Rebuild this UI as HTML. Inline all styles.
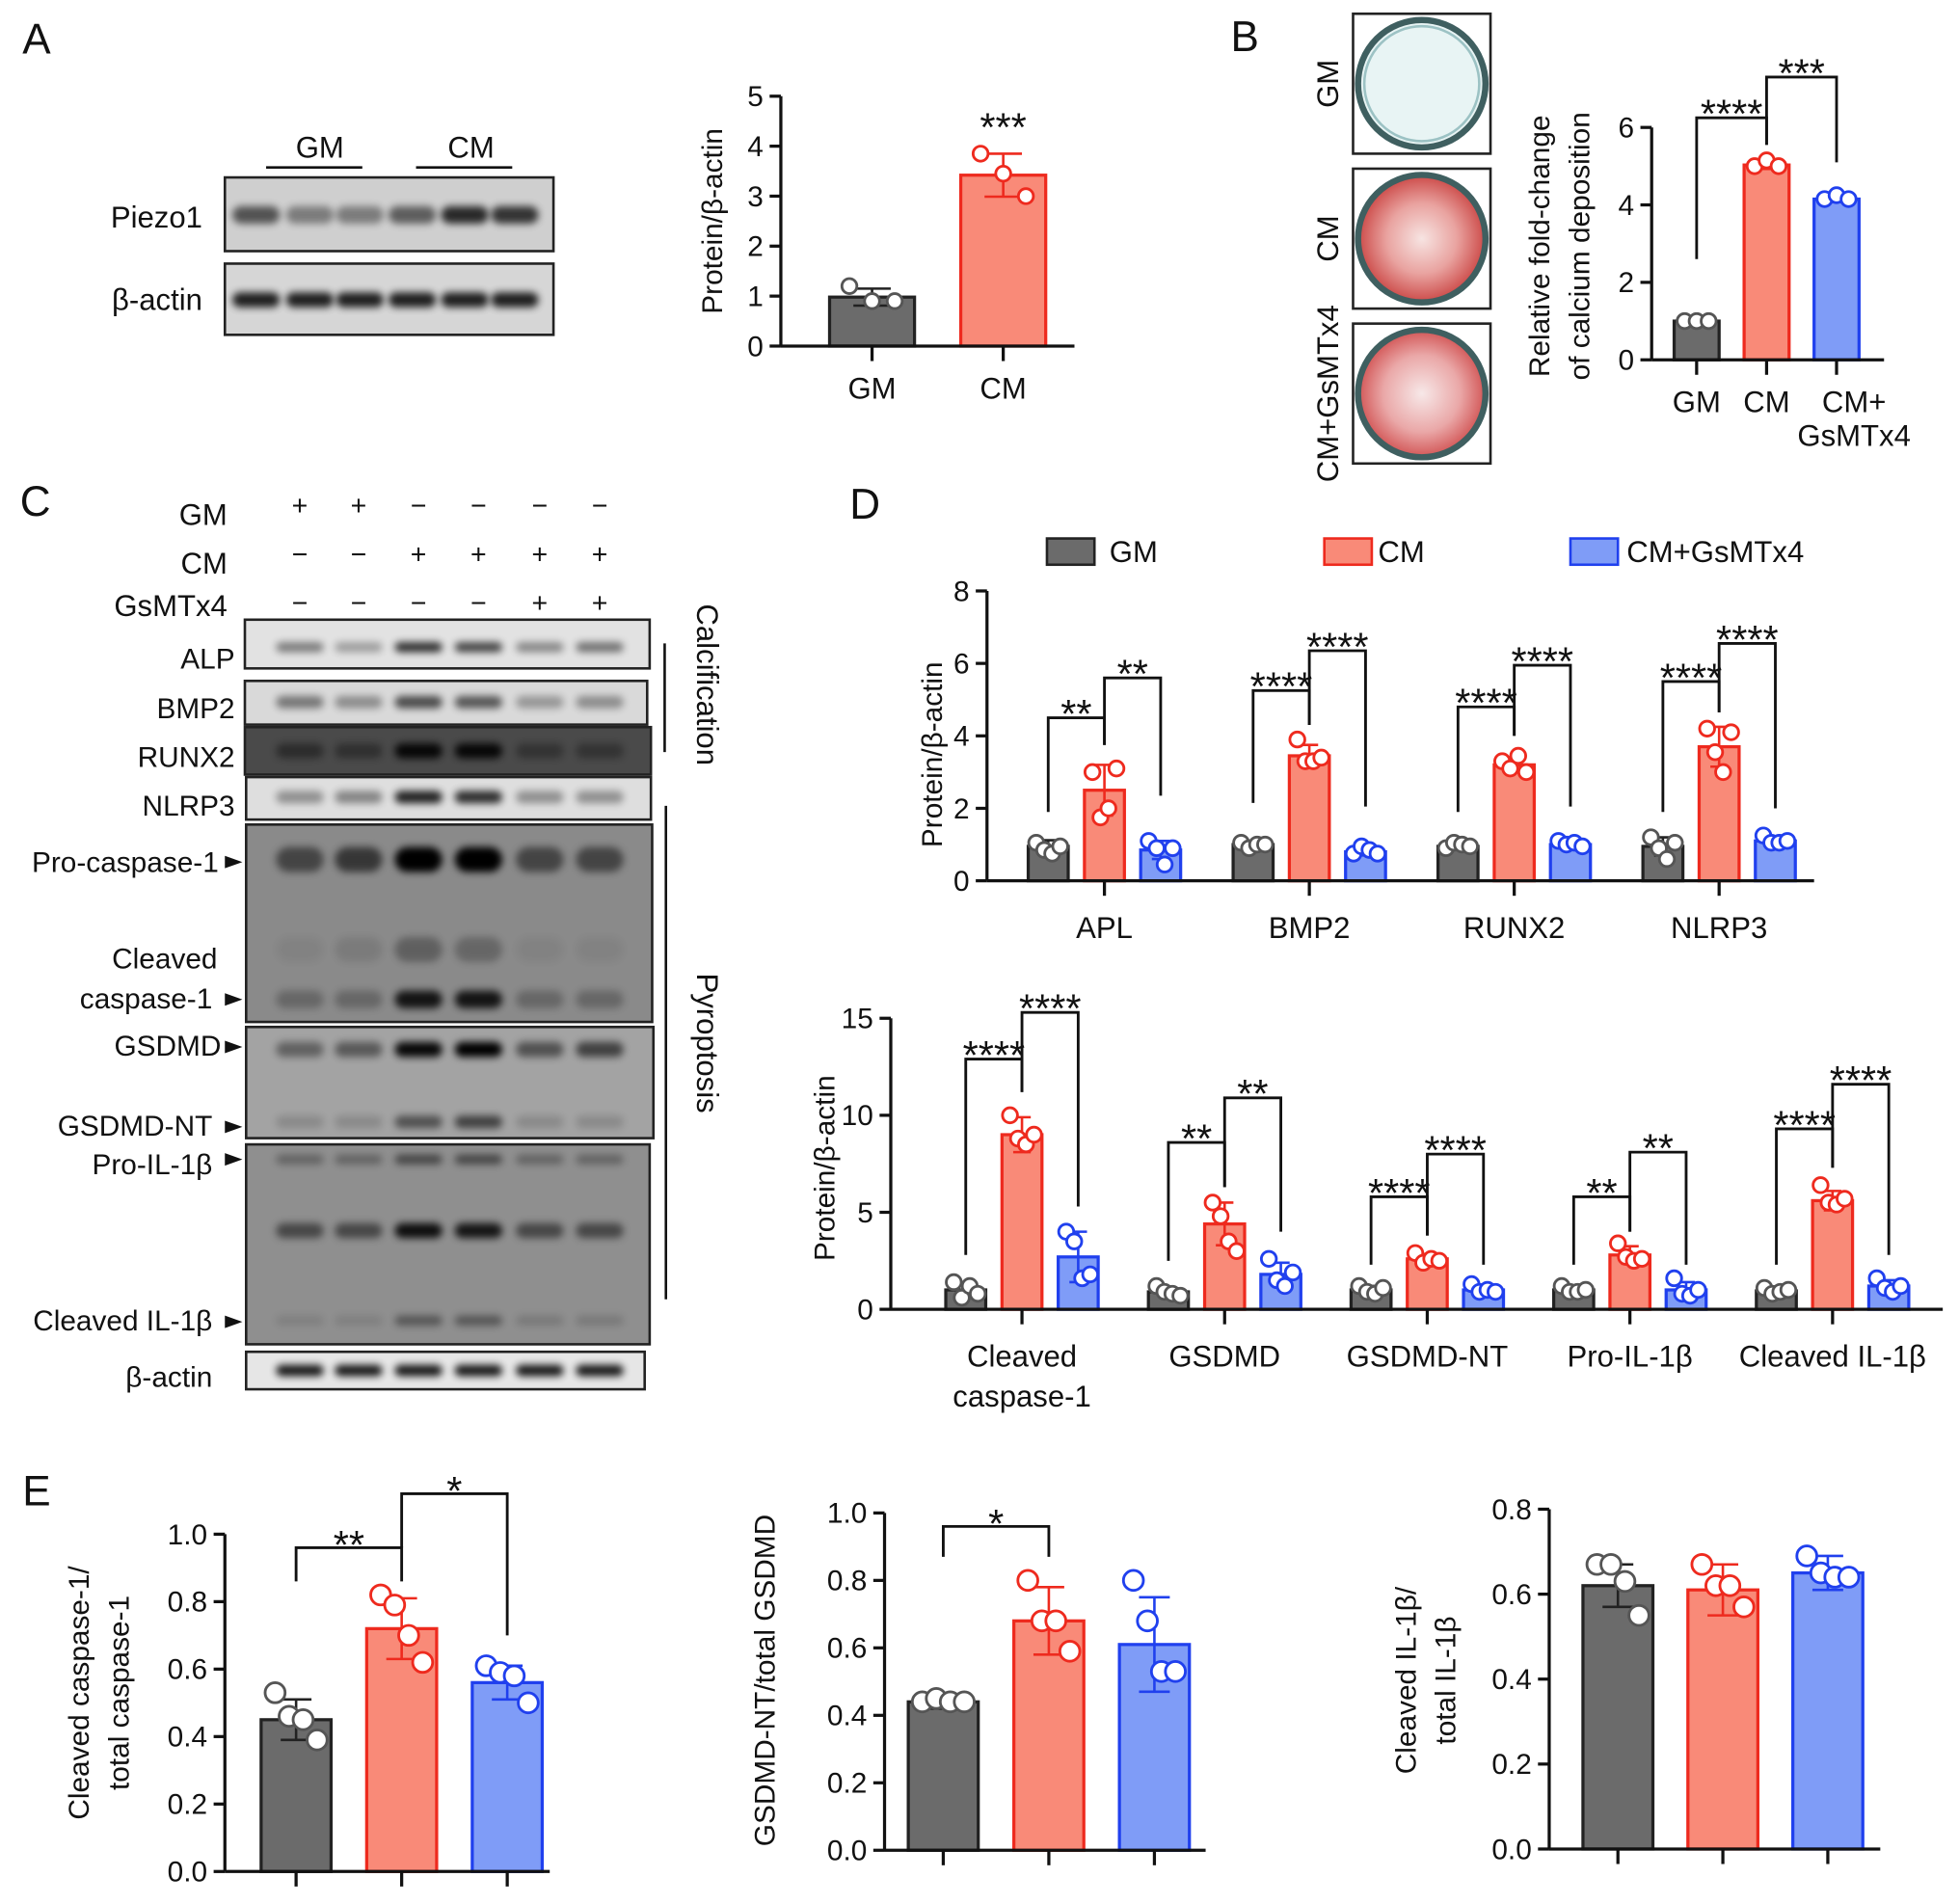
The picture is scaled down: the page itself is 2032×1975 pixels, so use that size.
<!DOCTYPE html>
<html><head><meta charset="utf-8"><style>
html,body{margin:0;padding:0;background:#fff}
svg{display:block;font-family:"Liberation Sans",Arial,sans-serif}
</style></head><body>
<svg id="fig" width="2032" height="1975" viewBox="0 0 1568 1524" xmlns="http://www.w3.org/2000/svg">
<defs>
<filter id="blur" x="-50%" y="-200%" width="200%" height="500%"><feGaussianBlur stdDeviation="3"/></filter>
<radialGradient id="redwell" cx="50%" cy="50%" r="50%"><stop offset="0" stop-color="#f7e4e2"/><stop offset="0.55" stop-color="#e9a3a0"/><stop offset="1" stop-color="#cc4a48"/></radialGradient>
<radialGradient id="redwell2" cx="50%" cy="50%" r="50%"><stop offset="0" stop-color="#f7e8e8"/><stop offset="0.6" stop-color="#eaa8a8"/><stop offset="1" stop-color="#d25656"/></radialGradient>
</defs>
<g id="static" font-size="24" fill="#111">
<text x="18" y="43" font-size="34">A</text>
<text x="985" y="41" font-size="34">B</text>
<text x="16" y="413" font-size="34">C</text>
<text x="680" y="415" font-size="34">D</text>
<text x="18" y="1205" font-size="34">E</text>
<text x="256" y="126" text-anchor="middle">GM</text>
<line x1="213" y1="134" x2="290" y2="134" stroke="#111" stroke-width="2"/>
<text x="377" y="126" text-anchor="middle">CM</text>
<line x1="333" y1="134" x2="410" y2="134" stroke="#111" stroke-width="2"/>
<text x="162" y="182" text-anchor="end">Piezo1</text>
<text x="162" y="248" text-anchor="end">β-actin</text>
<rect x="1083" y="11" width="110" height="112" fill="#fff" stroke="#222" stroke-width="2"/>
<circle cx="1138" cy="67" r="51" fill="#e8f4f4" stroke="#3f5f60" stroke-width="5"/>
<circle cx="1138" cy="67" r="46" fill="none" stroke="#9cc2c4" stroke-width="2"/>
<rect x="1083" y="135" width="110" height="112" fill="#fff" stroke="#222" stroke-width="2"/>
<circle cx="1138" cy="191" r="51" fill="url(#redwell)" stroke="#3f5f60" stroke-width="5"/>
<rect x="1083" y="259" width="110" height="112" fill="#fff" stroke="#222" stroke-width="2"/>
<circle cx="1138" cy="315" r="51" fill="url(#redwell2)" stroke="#3f5f60" stroke-width="5"/>
<text transform="translate(1071,67) rotate(-90)" text-anchor="middle">GM</text>
<text transform="translate(1071,191) rotate(-90)" text-anchor="middle">CM</text>
<text transform="translate(1071,315) rotate(-90)" text-anchor="middle">CM+GsMTx4</text>
<text x="182" y="420" text-anchor="end">GM</text>
<text x="182" y="459" text-anchor="end">CM</text>
<text x="182" y="493" text-anchor="end">GsMTx4</text>
<g id="pm" font-size="22" text-anchor="middle"></g>
<g id="blots"></g>
<g font-size="23" text-anchor="end">
<text x="188" y="535">ALP</text>
<text x="188" y="575">BMP2</text>
<text x="188" y="614">RUNX2</text>
<text x="188" y="653">NLRP3</text>
<text x="175" y="698">Pro-caspase-1</text>
<text x="174" y="775">Cleaved</text>
<text x="170" y="807">caspase-1</text>
<text x="177" y="845">GSDMD</text>
<text x="170" y="909">GSDMD-NT</text>
<text x="170" y="940">Pro-IL-1β</text>
<text x="170" y="1065">Cleaved IL-1β</text>
<text x="170" y="1110">β-actin</text>
</g>
<g fill="#111">
<path d="M180 685 l14 5 l-14 5z"/><path d="M180 795 l14 5 l-14 5z"/><path d="M180 833 l14 5 l-14 5z"/>
<path d="M180 897 l14 5 l-14 5z"/><path d="M180 923 l14 5 l-14 5z"/><path d="M180 1053 l14 5 l-14 5z"/>
</g>
<line x1="532" y1="515" x2="532" y2="602" stroke="#111" stroke-width="2"/>
<line x1="533" y1="645" x2="533" y2="1040" stroke="#111" stroke-width="2"/>
<text transform="translate(558,548) rotate(90)" text-anchor="middle">Calcification</text>
<text transform="translate(558,835) rotate(90)" text-anchor="middle">Pyroptosis</text>
<rect x="838" y="431" width="38" height="21" fill="#6b6b6b" stroke="#222" stroke-width="2"/>
<text x="888" y="450">GM</text>
<rect x="1060" y="431" width="38" height="21" fill="#f98a78" stroke="#ee2a1e" stroke-width="2"/>
<text x="1103" y="450">CM</text>
<rect x="1257" y="431" width="38" height="21" fill="#7f9cf7" stroke="#2040ee" stroke-width="2"/>
<text x="1302" y="450">CM+GsMTx4</text>
</g>
<g id="charts"></g>
</svg>
<script>
// Panel A
const aSeries = ['GM','CM'];
const aMeans = [0.98, 3.42];
const aErrs = [0.17, 0.43];
const aPoints = [[1.2,0.9,0.9],[3.85,3.45,3.0]];
const aTicks = [0,1,2,3,4,5];
// Panel B
const bSeries = ['GM','CM','CM+\nGsMTx4'];
const bMeans = [1.0, 5.03, 4.15];
const bErrs = [0.03, 0.1, 0.08];
const bPoints = [[1.0,1.0,1.0],[5.0,5.15,5.0],[4.15,4.25,4.15]];
const bTicks = [0,2,4,6];
// Panel D top
const d1Cats = ['APL','BMP2','RUNX2','NLRP3'];
const d1GM = [0.95,1.0,0.95,0.95];
const d1CM = [2.5,3.45,3.2,3.7];
const d1GS = [0.85,0.8,1.0,1.1];
const d1ErrGM = [0.17,0.1,0.1,0.25];
const d1ErrCM = [0.7,0.3,0.2,0.55];
const d1ErrGS = [0.25,0.1,0.1,0.1];
const d1PtsGM = [[1.05,0.85,0.75,0.95],[1.05,0.9,1.0,1.0],[0.9,1.05,1.0,0.95],[1.2,0.9,0.6,1.05]];
const d1PtsCM = [[3.0,1.75,2.0,3.1],[3.9,3.3,3.3,3.4],[3.3,3.1,3.45,3.0],[4.2,3.55,3.0,4.1]];
const d1PtsGS = [[1.1,0.9,0.45,0.9],[0.75,0.95,0.85,0.75],[1.1,1.0,1.05,0.95],[1.25,1.05,1.05,1.1]];
const d1Ticks = [0,2,4,6,8];
const d1Brackets = [[0,0,1,4.5,1.9,3.75,'**'],[0,1,2,5.6,3.75,2.35,'**'],[1,0,1,5.25,2.15,4.3,'****'],[1,1,2,6.35,4.3,2.05,'****'],[2,0,1,4.8,1.9,4.0,'****'],[2,1,2,5.95,4.0,2.05,'****'],[3,0,1,5.5,1.9,4.65,'****'],[3,1,2,6.55,4.65,2.0,'****']];
// Panel D bottom
const d2Cats = ['Cleaved\ncaspase-1','GSDMD','GSDMD-NT','Pro-IL-1β','Cleaved IL-1β'];
const d2GM = [1.0,0.9,1.0,1.0,0.95];
const d2CM = [9.0,4.4,2.6,2.8,5.6];
const d2GS = [2.7,1.8,1.0,1.0,1.2];
const d2ErrGM = [0.35,0.2,0.2,0.2,0.15];
const d2ErrCM = [0.9,1.1,0.25,0.45,0.5];
const d2ErrGS = [1.3,0.6,0.2,0.4,0.3];
const d2PtsGM = [[1.4,0.6,1.2,0.8],[1.2,0.9,0.8,0.7],[1.2,0.9,0.8,1.1],[1.2,0.9,0.9,1.0],[1.1,0.8,0.9,1.0]];
const d2PtsCM = [[10.0,8.8,8.5,9.0],[5.5,4.8,3.5,3.0],[2.9,2.4,2.6,2.5],[3.4,2.7,2.5,2.6],[6.4,5.5,5.4,5.7]];
const d2PtsGS = [[4.0,3.5,1.6,1.8],[2.6,1.5,1.2,1.9],[1.3,0.9,1.0,0.9],[1.6,0.8,0.7,1.0],[1.6,1.1,0.9,1.2]];
const d2Ticks = [0,5,10,15];
const d2Brackets = [[0,0,1,12.9,2.8,11.2,'****'],[0,1,2,15.3,11.2,5.3,'****'],[1,0,1,8.6,2.5,6.3,'**'],[1,1,2,10.9,6.3,4.0,'**'],[2,0,1,5.8,2.3,3.8,'****'],[2,1,2,8.0,3.8,2.3,'****'],[3,0,1,5.8,2.3,4.0,'**'],[3,1,2,8.1,4.0,2.3,'**'],[4,0,1,9.3,2.3,7.3,'****'],[4,1,2,11.6,7.3,2.8,'****']];
// Panel E
const e1Means = [0.45,0.72,0.56];
const e1Errs = [0.06,0.09,0.05];
const e1Points = [[0.53,0.46,0.45,0.39],[0.82,0.79,0.70,0.62],[0.61,0.59,0.58,0.50]];
const e1Ticks = [0,0.2,0.4,0.6,0.8,1.0];
const e2Means = [0.44,0.68,0.61];
const e2Errs = [0.02,0.1,0.14];
const e2Points = [[0.44,0.45,0.44,0.44],[0.80,0.68,0.68,0.59],[0.80,0.68,0.53,0.53]];
const e2Ticks = [0,0.2,0.4,0.6,0.8,1.0];
const e3Means = [0.62,0.61,0.65];
const e3Errs = [0.05,0.06,0.04];
const e3Points = [[0.67,0.67,0.63,0.55],[0.67,0.62,0.62,0.57],[0.69,0.65,0.64,0.64]];
const e3Ticks = [0,0.2,0.4,0.6,0.8];

const NS='http://www.w3.org/2000/svg';
const root=document.getElementById('charts');
function mk(tag,attrs,parent){const e=document.createElementNS(NS,tag);for(const k in attrs)e.setAttribute(k,attrs[k]);(parent||root).appendChild(e);return e;}
const FILL=['#6b6b6b','#f98a78','#7f9cf7'];
const STROKE=['#222','#ee2a1e','#2040ee'];
const DOT=['#555','#ee2a1e','#2040ee'];
function multiText(g,x,y,str,lh,fs,anchor){
  const t=mk('text',{x:x,y:y,'font-size':fs,'text-anchor':anchor||'middle',fill:'#111'},g);
  str.split('\n').forEach((s,i)=>{const ts=mk('tspan',{x:x,dy:i?lh:0},t);ts.textContent=s;});
  return t;
}
function drawChart(o){
  const g=mk('g',{});
  
  
  const yS=v=>o.y0-v*o.ppu;
  const ns=o.means.length, ng=o.means[0].length;
  const cx=(gi,si)=>o.gStart+gi*o.gStep+(si-(ns-1)/2)*o.sStep;
  const top=yS(o.ticks[o.ticks.length-1]);
  const ya=mk('line',{x1:o.ax,y1:top,x2:o.ax,y2:o.y0,stroke:'#111','stroke-width':2.5},g);
  
  
  o.ticks.forEach(t=>{
    mk('line',{x1:o.ax-9,y1:yS(t),x2:o.ax,y2:yS(t),stroke:'#111','stroke-width':2.5},g);
    const tl=mk('text',{x:o.ax-14,y:yS(t)+8,'font-size':o.fs||23,'text-anchor':'end',fill:'#111'},g);
    tl.textContent=o.fmt?o.fmt(t):String(t);
    
    
  });
  const yl=multiText(g,0,0,o.ylabel,32,o.lfs||23,'middle');
  yl.setAttribute('transform','translate('+o.ylx+','+o.yly+') rotate(-90)');
  
  
  for(let si=0;si<ns;si++)for(let gi=0;gi<ng;gi++){
    const x=cx(gi,si), m=o.means[si][gi], e=o.errs[si][gi];
    const r=mk('rect',{x:x-o.bw/2,y:yS(m),width:o.bw,height:o.y0-yS(m),fill:FILL[si],stroke:STROKE[si],'stroke-width':2.5},g);
    
    
    mk('line',{x1:x,y1:yS(m+e),x2:x,y2:yS(Math.max(0,m-e)),stroke:STROKE[si],'stroke-width':2},g);
    mk('line',{x1:x-o.bw*0.22,y1:yS(m+e),x2:x+o.bw*0.22,y2:yS(m+e),stroke:STROKE[si],'stroke-width':2},g);
    mk('line',{x1:x-o.bw*0.22,y1:yS(Math.max(0,m-e)),x2:x+o.bw*0.22,y2:yS(Math.max(0,m-e)),stroke:STROKE[si],'stroke-width':2},g);
    const pts=o.points[si][gi], n=pts.length;
    pts.forEach((p,k)=>{
      const off=(k-(n-1)/2)*(o.bw*0.8/(n));
      const c=mk('circle',{cx:x+off,cy:yS(p),r:o.r,fill:'#fff',stroke:DOT[si],'stroke-width':2.2},g);
      
      
    });
  }
  const xa=mk('line',{x1:o.ax,y1:o.y0,x2:o.axEnd,y2:o.y0,stroke:'#111','stroke-width':2.5},g);
  
  
  if(o.groupLabels){
    o.groupLabels.forEach((lab,gi)=>{
      const x=o.gStart+gi*o.gStep;
      mk('line',{x1:x,y1:o.y0,x2:x,y2:o.y0+12,stroke:'#111','stroke-width':2.5},g);
      const t=multiText(g,x,o.y0+46,lab,32,24,'middle');
      
      
    });
  } else {
    for(let si=0;si<ns;si++){
      const x=cx(0,si);
      mk('line',{x1:x,y1:o.y0,x2:x,y2:o.y0+12,stroke:'#111','stroke-width':2.5},g);
      if(o.barLabels){
        const t=multiText(g,x+(o.barLabelDx?o.barLabelDx[si]:0),o.y0+42,o.barLabels[si],27,24,'middle');
        
        
      }
    }
  }
  (o.brackets||[]).forEach(b=>{
    const [gi,s1,s2,tp,l1,l2,lab]=b;
    const x1=cx(gi,s1), x2=cx(gi,s2);
    if(s1!==s2){
      const p=mk('path',{d:'M'+x1+' '+yS(l1)+' V'+yS(tp)+' H'+x2+' V'+yS(l2),fill:'none',stroke:'#111','stroke-width':2.2},g);
      
      
    }
    const t=mk('text',{x:(x1+x2)/2,y:yS(tp)+(o.sy||8),'font-size':o.sfs||32,'text-anchor':'middle',fill:'#111'},g);
    t.textContent=lab;
    
    
  });
}
const col=(arr)=>arr.map(v=>[v]);
drawChart({name:'chart-a',means:col(aMeans),errs:col(aErrs),points:aPoints.map(p=>[p]),ticks:aTicks,ax:625,axEnd:860,y0:277,ppu:40,gStart:750.5,gStep:0,sStep:105,bw:68,r:6,
  ylabel:'Protein/β-actin',ylx:578,yly:177,barLabels:aSeries,brackets:[[0,1,1,4.3,4.3,4.3,'***']],sy:8});
drawChart({name:'chart-b',means:col(bMeans),errs:col(bErrs),points:bPoints.map(p=>[p]),ticks:bTicks,ax:1322,axEnd:1508,y0:288,ppu:31,gStart:1414,gStep:0,sStep:56,bw:36,r:6,
  ylabel:'Relative fold-change\nof calcium deposition',ylx:1240,yly:197,barLabels:bSeries,barLabelDx:[0,0,14],
  brackets:[[0,0,1,6.25,2.6,5.55,'****'],[0,1,2,7.3,5.55,5.1,'***']],sy:8});
drawChart({name:'chart-d-top',means:[d1GM,d1CM,d1GS],errs:[d1ErrGM,d1ErrCM,d1ErrGS],points:[d1PtsGM,d1PtsCM,d1PtsGS],ticks:d1Ticks,ax:790,axEnd:1452,y0:705,ppu:29,
  gStart:884,gStep:164,sStep:45,bw:32,r:6,ylabel:'Protein/β-actin',ylx:754,yly:604,groupLabels:d1Cats,brackets:d1Brackets,sy:8});
drawChart({name:'chart-d-bottom',means:[d2GM,d2CM,d2GS],errs:[d2ErrGM,d2ErrCM,d2ErrGS],points:[d2PtsGM,d2PtsCM,d2PtsGS],ticks:d2Ticks,ax:713,axEnd:1555,y0:1048,ppu:15.53,
  gStart:818,gStep:162.2,sStep:45,bw:32,r:6,ylabel:'Protein/β-actin',ylx:668,yly:935,groupLabels:d2Cats,brackets:d2Brackets,sy:8});
const f1=t=>t.toFixed(1);
drawChart({name:'chart-e1',means:col(e1Means),errs:col(e1Errs),points:e1Points.map(p=>[p]),ticks:e1Ticks,fmt:f1,ax:180,axEnd:440,y0:1498,ppu:270,gStart:321.5,gStep:0,sStep:84.5,bw:56,r:8,
  ylabel:'Cleaved caspase-1/\ntotal caspase-1',ylx:71,yly:1355,barLabels:['','',''],brackets:[[0,0,1,0.96,0.86,0.86,'**'],[0,1,2,1.12,0.96,0.7,'*']],sy:9});
drawChart({name:'chart-e2',means:col(e2Means),errs:col(e2Errs),points:e2Points.map(p=>[p]),ticks:e2Ticks,fmt:f1,ax:708,axEnd:965,y0:1481,ppu:270,gStart:839.5,gStep:0,sStep:84.5,bw:56,r:8,
  ylabel:'GSDMD-NT/total GSDMD',ylx:620,yly:1345,barLabels:['','',''],brackets:[[0,0,1,0.96,0.87,0.87,'*']],sy:9});
drawChart({name:'chart-e3',means:col(e3Means),errs:col(e3Errs),points:e3Points.map(p=>[p]),ticks:e3Ticks,fmt:f1,ax:1240,axEnd:1505,y0:1480,ppu:340,gStart:1379,gStep:0,sStep:84,bw:56,r:8,
  ylabel:'Cleaved IL-1β/\ntotal IL-1β',ylx:1133,yly:1345,barLabels:['','',''],brackets:[]});
const blots=document.getElementById('blots');
function blot(name,x,y,w,h,bg,lanes,bands){
  const g=mk('g',{},blots);
  
  
  mk('rect',{x:x,y:y,width:w,height:h,fill:bg,stroke:'#222','stroke-width':2},g);
  bands.forEach(b=>{
    lanes.forEach((lx,i)=>{
      const d=b.v[i];
      mk('rect',{x:lx-19,y:b.y-b.h/2,width:38,height:b.h,rx:b.h/2,fill:'#000',opacity:d,filter:'url(#blur)'},g);
    });
  });
}
const aL=[205,248,288,330,372,412];
const cL=[240,287,335,383,432,480];
blot('blot-piezo1',180,142,263,59,'#cfcfcf',aL,[{y:172,h:14,v:[0.6,0.4,0.4,0.55,0.8,0.75]}]);
blot('blot-actin-a',180,211,263,57,'#d6d6d6',aL,[{y:240,h:12,v:[0.85,0.85,0.85,0.85,0.85,0.85]}]);
blot('blot-alp',196,496,324,39,'#e2e2e2',cL,[{y:518,h:8,v:[0.45,0.3,0.8,0.7,0.4,0.5]}]);
blot('blot-bmp2',196,545,322,35,'#d9d9d9',cL,[{y:562,h:10,v:[0.45,0.35,0.65,0.6,0.3,0.35]}]);
blot('blot-runx2',196,582,325,38,'#4a4a4a',cL,[{y:601,h:12,v:[0.4,0.35,0.9,0.9,0.3,0.3]}]);
blot('blot-nlrp3',197,622,324,34,'#dedede',cL,[{y:638,h:10,v:[0.35,0.4,0.85,0.8,0.35,0.35]}]);
blot('blot-caspase',197,660,325,158,'#8a8a8a',cL,[{y:688,h:20,v:[0.5,0.6,1,1,0.5,0.5]},{y:760,h:20,v:[0.05,0.1,0.3,0.25,0.05,0.05]},{y:800,h:14,v:[0.25,0.25,0.85,0.85,0.25,0.25]}]);
blot('blot-gsdmd',197,822,326,89,'#a3a3a3',cL,[{y:840,h:12,v:[0.4,0.45,0.95,1,0.5,0.6]},{y:898,h:10,v:[0.15,0.15,0.5,0.6,0.15,0.15]}]);
blot('blot-il1b',197,916,323,160,'#8f8f8f',cL,[{y:928,h:8,v:[0.3,0.3,0.5,0.5,0.3,0.3]},{y:985,h:12,v:[0.5,0.5,0.9,0.85,0.5,0.5]},{y:1057,h:8,v:[0.1,0.1,0.4,0.4,0.15,0.15]}]);
blot('blot-actin-c',197,1082,319,30,'#e6e6e6',cL,[{y:1097,h:9,v:[0.9,0.9,0.9,0.9,0.9,0.9]}]);
const pm=document.getElementById('pm');
const rows=[['+','+','−','−','−','−'],['−','−','+','+','+','+'],['−','−','−','−','+','+']];
const rowY=[412,451,490];
rows.forEach((r,ri)=>r.forEach((s,i)=>{const t=mk('text',{x:cL[i],y:rowY[ri]},pm);t.textContent=s;}));
</script>
</body></html>
